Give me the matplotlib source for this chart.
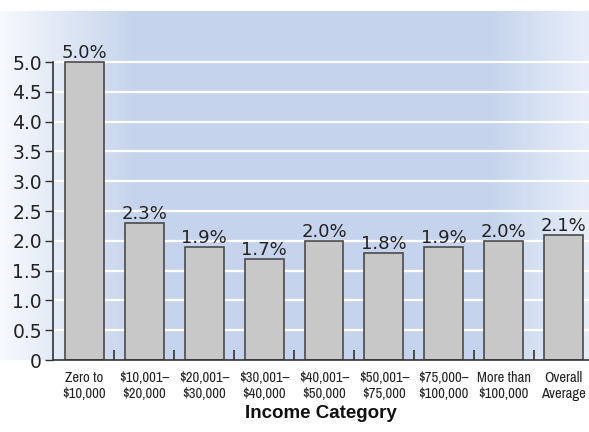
import numpy as np
import matplotlib
matplotlib.use("Agg")
import matplotlib.pyplot as plt
from matplotlib import font_manager
from matplotlib.colors import to_rgb

# data
categories = ["Zero to\n$10,000", "$10,001–\n$20,000", "$20,001–\n$30,000",
              "$30,001–\n$40,000", "$40,001–\n$50,000", "$50,001–\n$75,000",
              "$75,000–\n$100,000", "More than\n$100,000", "Overall\nAverage"]
values = [5.0, 2.3, 1.9, 1.7, 2.0, 1.8, 1.9, 2.0, 2.1]
yticks = [0, 0.5, 1.0, 1.5, 2.0, 2.5, 3.0, 3.5, 4.0, 4.5, 5.0]
ytick_labels = ["0", "0.5", "1.0", "1.5", "2.0", "2.5", "3.0", "3.5", "4.0", "4.5", "5.0"]

# look for a narrow face for the category labels
narrow = [f for f in font_manager.fontManager.ttflist
          if ("narrow" in f.name.lower() or "condensed" in f.name.lower()
              or f.stretch in ("condensed", "semi-condensed", 75, 87))
          and f.style == "normal" and f.weight in ("normal", 400, "regular")]
names = sorted({f.name for f in narrow})
print(names)
if narrow:
    cat_font = names[0]
    cat_size = 10.5
else:
    cat_font = "Liberation Sans"
    cat_size = 8.5

W, H = 589, 432
fig = plt.figure(figsize=(W / 100, H / 100), dpi=100)

# gradient panel behind the plot
panel_bottom = (H - 360) / H
panel_height = (360 - 11) / H
bg = fig.add_axes([0, panel_bottom, 1, panel_height], zorder=0)
mid = np.array(to_rgb("#c5d4ec"))
left_c = np.array(to_rgb("#f7f9fd"))
right_c = np.array(to_rgb("#e9eff9"))
grad = np.zeros((1, W, 3))
for i in range(W):
    if i < 135:
        grad[0, i] = left_c + (mid - left_c) * (i / 135)
    elif i > 490:
        grad[0, i] = mid + (right_c - mid) * ((i - 490) / (W - 490))
    else:
        grad[0, i] = mid
bg.imshow(grad, aspect="auto", extent=[0, 1, 0, 1])
bg.axis("off")

ax = fig.add_axes([53 / W, panel_bottom, 1 - 53 / W, panel_height], zorder=1)
ax.set_facecolor("none")

x = np.arange(len(values))
ax.bar(x, values, width=0.65, color="#c8c8c8", edgecolor="#4a4a4a",
       linewidth=1.2, zorder=3)
for xi, v in zip(x, values):
    ax.annotate(f"{v:.1f}%", (xi, v), xytext=(0, 0), textcoords="offset points",
                ha="center", va="bottom", fontsize=13, color="#222222",
                family="DejaVu Sans", zorder=4)

ax.set_xlim(-0.52, 8.42)
ax.set_ylim(0, 5.856)
for yv in yticks[1:]:
    ax.axhline(yv, color="white", lw=1.6, zorder=1)

ax.set_yticks(yticks)
ax.set_yticklabels(ytick_labels, fontsize=13.5, color="#222222", family="DejaVu Sans")
ax.tick_params(axis="y", direction="out", length=6, width=1, color="#333333", pad=2)

ax.set_xticks(x)
ax.set_xticklabels(categories, fontsize=cat_size, color="#222222",
                   family=[cat_font, "DejaVu Sans"], linespacing=1.15)
ax.tick_params(axis="x", length=0, pad=8)
ax.set_xticks(np.arange(0.5, 8, 1), minor=True)
ax.tick_params(axis="x", which="minor", direction="in", length=7, width=1.2, color="#333333")

for s in ["top", "right"]:
    ax.spines[s].set_visible(False)
for s in ["left", "bottom"]:
    ax.spines[s].set_color("#333333")
    ax.spines[s].set_linewidth(1.2)
    ax.spines[s].set_zorder(5)
ax.spines["left"].set_bounds(0, 5)

ax.set_xlabel("Income Category", fontsize=13.5, fontweight="bold",
              family="Liberation Sans", color="#111111", labelpad=3)

fig.savefig("out.png", dpi=100)
